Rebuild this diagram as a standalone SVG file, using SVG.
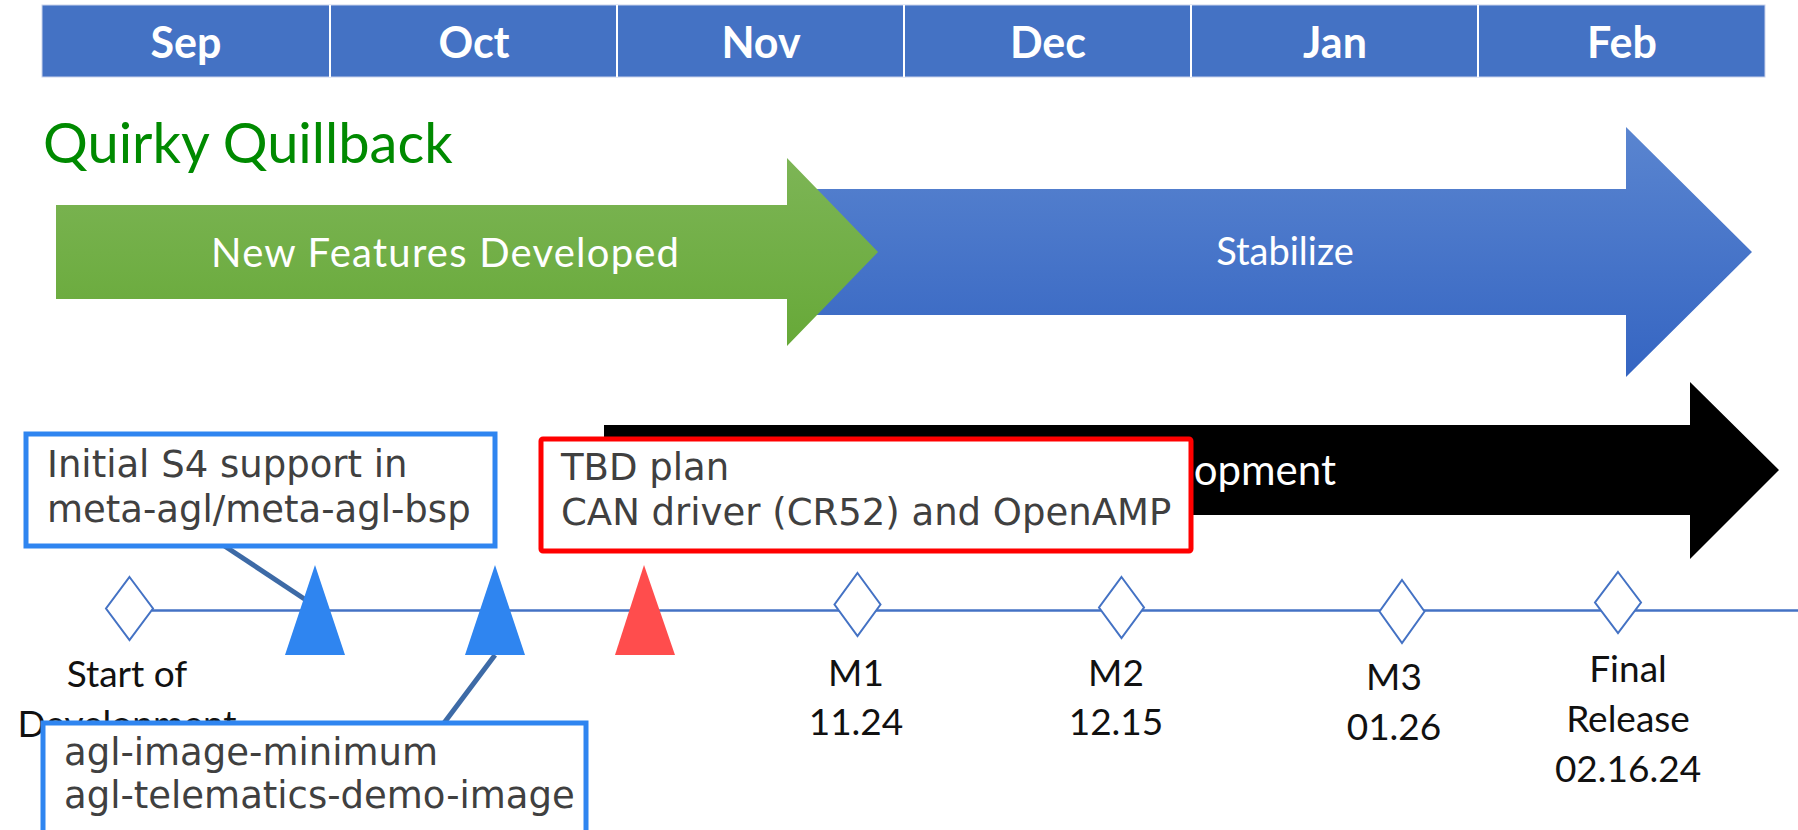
<svg xmlns="http://www.w3.org/2000/svg" width="1798" height="830" viewBox="0 0 1798 830">
<style>
.hdr{font-family:Lato,"Liberation Sans",sans-serif;font-weight:bold;font-size:43px;fill:#fff;text-anchor:middle}
.arr{font-family:Lato,"Liberation Sans",sans-serif;font-size:37px;fill:#fff;text-anchor:middle}
.ms{font-family:Lato,"Liberation Sans",sans-serif;font-size:37px;fill:#111;text-anchor:middle}
.box{font-family:"DejaVu Sans","Liberation Sans",sans-serif;font-size:37px;fill:#404040}
.dia{fill:#fff;stroke:#4472C4;stroke-width:2}
.call{stroke:#3D6AA6;stroke-width:5;fill:none}
.bluebox{fill:#fff;stroke:#2F85F0;stroke-width:5}
</style>
<defs>
<linearGradient id="gGreen" x1="0" y1="0" x2="0" y2="1"><stop offset="0" stop-color="#7DB556"/><stop offset="1" stop-color="#67A938"/></linearGradient>
<linearGradient id="gBlue" x1="0" y1="0" x2="0" y2="1"><stop offset="0" stop-color="#5A85D0"/><stop offset="1" stop-color="#3565C2"/></linearGradient>
</defs>
<rect width="1798" height="830" fill="#fff"/>
<g id="header">
<rect x="42" y="5" width="1723" height="72" fill="#4472C4" stroke="#CAD3EC" stroke-width="1"/>
<g stroke="#fff" stroke-width="2">
<line x1="330" y1="5" x2="330" y2="77"/><line x1="617" y1="5" x2="617" y2="77"/><line x1="904" y1="5" x2="904" y2="77"/><line x1="1191" y1="5" x2="1191" y2="77"/><line x1="1478" y1="5" x2="1478" y2="77"/>
</g>
<text class="hdr" x="186" y="58">Sep</text>
<text class="hdr" x="474" y="58">Oct</text>
<text class="hdr" x="761" y="58">Nov</text>
<text class="hdr" x="1048" y="58">Dec</text>
<text class="hdr" x="1335" y="58">Jan</text>
<text class="hdr" x="1622" y="58">Feb</text>
</g>
<g id="title"><text x="43" y="163" font-family="Lato,'Liberation Sans',sans-serif" font-size="56" fill="#008A00">Quirky Quillback</text></g>
<g id="stabilize">
<polygon points="790,189 1626,189 1626,127 1752,252 1626,377 1626,315 790,315" fill="url(#gBlue)"/>
<text class="arr" x="1285" y="265" style="font-size:38px">Stabilize</text>
</g>
<g id="new-features">
<polygon points="56,205 787,205 787,158 878,252 787,346 787,299 56,299" fill="url(#gGreen)"/>
<text class="arr" x="445" y="267" style="font-size:40px" textLength="468" lengthAdjust="spacing">New Features Developed</text>
</g>
<g id="development">
<polygon points="604,425 1690,425 1690,382 1779,470 1690,559 1690,515 604,515" fill="#000"/>
<text class="arr" x="1336" y="485" style="font-size:42px;text-anchor:end">Development</text>
</g>
<g id="connectors">
<line x1="152" y1="610.5" x2="1798" y2="610.5" stroke="#4472C4" stroke-width="2.5"/>
<line class="call" x1="223" y1="545" x2="306" y2="600"/>
<line class="call" x1="495" y1="655" x2="444" y2="723"/>
</g>
<g id="start">
<polygon class="dia" points="129.5,577 153,608.5 129.5,640 106,608.5"/>
<text class="ms" x="127" y="687">Start of</text>
<text class="ms" x="127" y="737">Development</text>
</g>
<g id="m1">
<polygon class="dia" points="857.5,573 880.5,604.5 857.5,636 834.5,604.5"/>
<text class="ms" x="856" y="686">M1</text>
<text class="ms" x="856" y="735">11.24</text>
</g>
<g id="m2">
<polygon class="dia" points="1121.5,577 1144,607.5 1121.5,638 1099,607.5"/>
<text class="ms" x="1116" y="686">M2</text>
<text class="ms" x="1116" y="735">12.15</text>
</g>
<g id="m3">
<polygon class="dia" points="1402,580 1424.5,611.5 1402,643 1379.5,611.5"/>
<text class="ms" x="1394" y="690">M3</text>
<text class="ms" x="1394" y="740">01.26</text>
</g>
<g id="final">
<polygon class="dia" points="1618,572 1641,602.5 1618,633 1595,602.5"/>
<text class="ms" x="1628" y="682">Final</text>
<text class="ms" x="1628" y="732">Release</text>
<text class="ms" x="1628" y="782">02.16.24</text>
</g>
<g id="tri-s4"><polygon points="315,565 345,655 285,655" fill="#2F85F0"/></g>
<g id="tri-image"><polygon points="495,565 525,655 465,655" fill="#2F85F0"/></g>
<g id="tri-tbd"><polygon points="644,565 675,655 615,655" fill="#FF4D4D"/></g>
<g id="box-s4">
<rect class="bluebox" x="26" y="434" width="469" height="112"/>
<text class="box" x="47" y="477">Initial S4 support in</text>
<text class="box" x="47" y="522">meta-agl/meta-agl-bsp</text>
</g>
<g id="box-images">
<rect class="bluebox" x="43" y="723" width="543" height="120"/>
<text class="box" x="64" y="765">agl-image-minimum</text>
<text class="box" x="64" y="808">agl-telematics-demo-image</text>
</g>
<g id="box-tbd">
<rect x="541" y="439" width="650" height="112" fill="#fff" stroke="#FF0000" stroke-width="5" rx="2"/>
<text class="box" x="561" y="480">TBD plan</text>
<text class="box" x="561" y="525">CAN driver (CR52) and OpenAMP</text>
</g>
</svg>
